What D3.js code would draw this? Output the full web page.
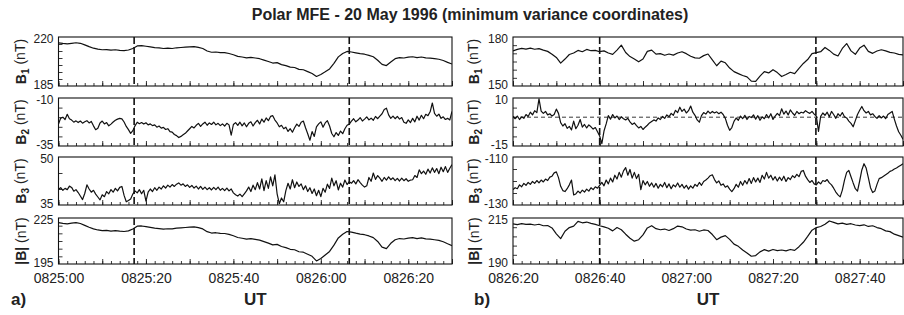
<!DOCTYPE html>
<html>
<head>
<meta charset="utf-8">
<script src="https://cdn.jsdelivr.net/npm/d3@7"></script>
<style>
body { margin: 0; background: #fff; }
svg { font-family: "Liberation Sans", Arial, sans-serif; }
</style>
</head>
<body>
<div id="chart"></div>
<script>
// Data
//-------------------------------------------------------
// time ranges and labelled ticks (UT, HHMM:SS)
var leftRange = ["0825:00", "0826:30"];
var rightRange = ["0826:20", "0827:50"];
var leftTickLabels = ["0825:00", "0825:20", "0825:40", "0826:00", "0826:20"];
var rightTickLabels = ["0826:20", "0826:40", "0827:00", "0827:20", "0827:40"];

// dashed markers, seconds after start of each range
var leftDashSec = [17.3, 66.5];
var rightDashSec = [20.0, 69.9];

// y ranges (also the tick labels) for B1, B2, B3, |B|
var leftYDomains = [[185, 220], [-35, -10], [35, 50], [195, 225]];
var rightYDomains = [[150, 180], [-15, 10], [-130, -110], [190, 215]];
var yLabels = ["B1", "B2", "B3", "|B|"];

// left interval, B1 and |B| every 1 s, B2 and B3 every 0.5 s
var leftB1 = [
    215.8, 215.4, 215.1, 215.5, 215.9, 215.5, 214.4, 213.1, 212.0, 211.3,
    210.9, 211.0, 210.6, 210.9, 210.5, 210.3, 210.7, 211.8, 213.6, 213.9,
    213.4, 212.9, 212.4, 212.2, 211.8, 212.0, 211.8, 212.3, 212.5, 212.7,
    212.9, 213.1, 212.6, 211.8, 210.0, 209.1, 209.3, 208.9, 208.8, 208.2,
    207.3, 206.2, 205.7, 205.1, 205.5, 205.0, 204.5, 203.5, 202.5, 201.4,
    201.7, 200.3, 199.6, 198.5, 198.2, 196.9, 196.6, 195.3, 193.9, 191.8,
    193.2, 195.1, 197.2, 201.2, 205.8, 208.2, 209.7, 209.3, 208.7, 208.1,
    207.7, 206.9, 205.9, 203.4, 200.4, 199.6, 202.2, 204.5, 205.3, 205.0,
    205.6, 205.9, 205.3, 205.7, 205.1, 204.9, 204.5, 204.1, 203.2, 201.9,
    200.7
];
var leftB2 = [
    -23.5, -20.5, -20.0, -21.2, -18.5, -20.8, -21.5, -22.6, -21.9, -22.8,
    -22.0, -23.1, -22.4, -21.8, -23.0, -22.2, -24.5, -26.5, -25.8, -23.0,
    -22.0, -23.5, -22.8, -24.5, -23.6, -22.5, -21.6, -21.0, -20.6, -20.9,
    -22.5, -24.8, -26.5, -28.4, -27.0, -24.5, -22.6, -23.4, -22.8, -23.6,
    -22.9, -24.0, -23.5, -24.4, -24.0, -25.2, -24.6, -25.7, -25.3, -26.4,
    -26.0, -27.5, -27.8, -29.0, -29.6, -30.6, -30.0, -29.2, -28.4, -27.2,
    -26.0, -24.8, -25.6, -24.2, -23.2, -24.8, -23.5, -22.6, -24.2, -23.0,
    -23.8, -22.6, -24.0, -23.2, -24.4, -23.5, -24.6, -23.2, -24.0, -29.4,
    -23.8, -22.8, -24.3, -22.6, -24.5, -23.0, -25.0, -23.2, -22.4, -24.6,
    -22.8, -21.6, -23.5, -21.0, -22.6, -20.4, -21.8, -19.6, -19.2, -21.5,
    -23.0, -25.0, -24.2, -26.0, -25.2, -27.4, -26.0, -27.8, -25.5, -23.6,
    -24.8, -22.6, -22.0, -25.5, -28.6, -32.0, -27.5, -30.0, -25.0, -23.5,
    -22.4, -25.2, -23.0, -21.8, -24.6, -28.5, -30.2, -28.0, -29.5, -27.2,
    -28.6, -26.0, -24.2, -23.6, -22.0, -20.8, -22.4, -21.5, -20.2, -22.0,
    -21.0, -19.8, -21.4, -20.5, -21.6, -19.6, -20.8, -19.4, -18.2, -16.0,
    -15.3, -18.8, -20.6, -19.4, -20.8, -19.6, -21.0, -20.2, -22.6, -23.2,
    -21.4, -22.8, -20.6, -22.4, -19.5, -21.5, -19.0, -20.8, -18.5, -19.2,
    -17.2, -12.6, -18.0, -19.5, -18.4, -20.6, -19.8, -21.2, -20.6, -21.4,
    -17.0
];
var leftB3 = [
    39.9, 40.4, 39.6, 40.2, 39.8, 40.9, 40.5, 39.3, 39.8, 38.9,
    37.8, 36.7, 38.6, 41.3, 40.0, 39.0, 39.6, 38.4, 37.5, 36.6,
    38.2, 37.6, 39.2, 38.5, 39.8, 39.0, 40.2, 39.4, 40.5, 40.8,
    38.0, 36.0, 36.4, 36.9, 38.4, 39.4, 38.8, 39.8, 38.5, 39.6,
    36.2, 39.0, 40.0, 39.2, 40.4, 39.6, 40.6, 40.0, 41.0, 40.3,
    41.2, 40.6, 41.4, 40.8, 41.5, 41.9, 41.2, 41.6, 40.8, 41.3,
    40.5, 41.1, 40.3, 40.9, 40.0, 40.8, 39.9, 40.6, 39.8, 40.4,
    39.7, 40.5, 39.8, 40.6, 39.6, 40.2, 39.5, 40.3, 39.4, 40.0,
    38.8, 38.2, 37.8, 38.4, 37.6, 38.5, 39.4, 40.6, 39.2, 41.2,
    39.8, 42.0, 40.0, 43.2, 39.5, 42.6, 40.2, 43.8, 41.0, 44.4,
    38.5, 35.4, 37.2, 36.0, 39.5, 41.8, 40.0, 42.9, 40.4, 42.2,
    40.8, 41.6, 39.8, 41.0, 39.2, 40.4, 38.6, 40.0, 37.9, 39.6,
    37.6, 40.2, 39.0, 41.5, 40.2, 43.4, 41.0, 42.6, 39.7, 41.8,
    40.6, 42.8, 41.4, 42.3, 41.8, 42.6, 41.6, 42.9, 42.0, 41.2,
    40.6, 41.0, 43.6, 42.4, 45.0, 43.0, 44.2, 43.4, 42.4, 43.6,
    42.8, 43.8, 42.9, 43.5, 42.6, 43.3, 42.5, 43.4, 42.6, 43.2,
    42.4, 42.8, 42.9, 44.2, 43.6, 46.0, 44.8, 45.6, 44.6, 46.2,
    45.0, 46.6, 45.2, 46.4, 44.8, 46.8, 45.4, 47.0, 45.2, 46.5,
    47.6
];
var leftBmag = [
    222.0, 221.5, 221.2, 221.6, 222.0, 221.4, 220.2, 219.0, 217.9, 217.2,
    216.8, 216.9, 216.5, 216.8, 216.4, 216.2, 216.6, 217.8, 219.7, 219.8,
    219.4, 218.9, 218.4, 218.1, 217.8, 218.0, 217.9, 218.4, 218.6, 218.8,
    219.0, 219.2, 218.7, 217.9, 216.1, 215.2, 215.4, 215.0, 214.9, 214.3,
    213.4, 212.3, 211.8, 211.2, 211.6, 211.1, 210.6, 209.6, 208.6, 207.5,
    207.8, 206.4, 205.7, 204.6, 204.3, 203.0, 202.7, 201.4, 200.0, 197.0,
    198.6, 200.9, 203.2, 207.3, 212.0, 214.4, 216.2, 215.8, 215.1, 214.5,
    214.1, 213.3, 212.2, 209.7, 206.0, 205.0, 208.5, 210.8, 211.6, 211.3,
    211.9, 212.2, 211.6, 212.0, 211.4, 211.2, 210.8, 210.4, 209.5, 208.2,
    207.0
];

// right interval
var rightB1 = [
    171.5, 172.4, 173.0, 172.6, 173.2, 172.5, 172.9, 172.0, 171.2, 169.5,
    167.5, 164.0, 166.5, 169.3, 170.2, 171.8, 171.0, 172.4, 171.6, 171.8,
    171.0, 171.5, 170.2, 169.4, 172.0, 175.0, 170.5, 168.0, 166.5, 164.8,
    166.5, 171.2, 172.0, 169.5, 169.8, 168.8, 169.6, 168.9, 170.2, 171.0,
    169.8, 168.2, 167.2, 167.0, 168.6, 169.6, 166.0, 162.4, 165.2, 164.2,
    161.0, 158.8, 157.6, 156.4, 155.6, 153.0, 152.8, 156.0, 158.8, 158.0,
    160.0, 158.2, 155.8, 157.0, 158.4, 157.6, 160.8, 163.8, 166.2, 169.8,
    170.4, 171.0, 173.6, 171.8, 169.5, 168.4, 173.0, 176.0, 171.5, 169.4,
    173.2, 175.0, 171.2, 170.0, 171.4, 172.2, 171.5, 170.6, 170.2, 169.4,
    169.0
];
var rightB2 = [
    0.5, -0.8, 0.6, -1.2, 0.2, -0.6, 1.4, 0.4, 2.6, 1.2,
    3.4, 2.4, 9.5, 3.2, 2.0, 3.0, 1.2, 1.8, 0.6, 1.4,
    4.2, 2.0, -2.8, -4.6, -3.4, -5.8, -4.8, -6.6, -2.0, -6.0,
    -4.2, -1.2, -5.2, -3.8, -5.6, -4.0, -5.0, -6.2, -5.4, -7.6,
    -9.8, -13.8, -7.2, -3.5, 0.8, -1.0, 1.4, -0.4, 0.6, -1.2,
    0.2, -0.8, -1.4, -0.6, -2.4, -3.8, -3.0, -4.4, -5.6, -4.8,
    -6.4, -5.2, -4.2, -3.0, -2.2, -1.4, -2.0, -0.4, -1.2, 0.4,
    -0.6, 1.2, 0.2, 2.0, 1.0, 3.6, 2.4, 5.2, 3.0, 4.2,
    2.2, 3.4, 5.8, 2.6, 1.0, -1.4, -2.6, 0.8, 2.4, 1.6,
    3.2, 2.0, 3.0, 2.2, 2.8, 1.8, 2.6, 1.4, -0.6, -4.2,
    -6.8, -5.4, -2.2, -0.4, -1.6, 0.6, -0.8, 1.0, -1.2, 0.4,
    -0.2, 1.2, -1.0, 0.8, -1.6, 0.2, -0.8, 1.4, -0.4, 1.8,
    -1.2, 0.6, 2.0, 0.8, 4.4, 1.6, 3.2, 1.2, 3.8, 2.2,
    1.0, 3.0, 1.8, 2.6, 2.2, 3.4, 2.6, 2.0, 3.0, 1.6,
    0.6, -7.4, 0.4, 2.2, 1.0, 2.6, 0.2, 3.0, 1.4, -0.6,
    1.8, 0.6, 2.4, 0.2, -0.4, -2.0, -3.2, -5.0, -1.8, 1.4,
    3.6, 5.6, 3.4, 2.2, 3.0, 1.2, 1.8, 0.4, -0.6, 0.8,
    -0.4, 0.6, -0.8, 1.4, 2.2, 3.0, -1.0, -4.6, -7.6, -9.4,
    -11.5
];
var rightB3 = [
    -123.6, -122.8, -123.2, -121.6, -122.4, -121.0, -121.8, -120.6, -121.4, -120.2,
    -121.0, -119.8, -120.8, -119.6, -120.4, -119.2, -119.8, -118.4, -118.0, -116.6,
    -116.2, -118.6, -122.2, -124.0, -124.4, -123.2, -121.6, -119.6, -125.8, -125.4,
    -124.2, -125.0, -123.8, -124.6, -123.4, -124.2, -122.8, -123.6, -122.4, -123.0,
    -121.8, -120.6, -122.0, -119.6, -121.2, -118.8, -120.4, -117.6, -119.2, -116.4,
    -118.4, -115.8, -114.4, -117.6, -115.2, -118.8, -116.4, -119.0, -117.2, -123.6,
    -119.8, -121.6, -120.2, -122.2, -120.8, -122.6, -121.0, -123.0, -121.4, -122.4,
    -120.6, -122.8, -121.2, -123.2, -121.6, -122.4, -120.8, -122.6, -121.4, -123.0,
    -121.8, -123.4, -122.0, -123.0, -121.4, -122.2, -120.6, -121.8, -120.2, -119.6,
    -118.8, -117.8, -117.4, -119.4, -120.8, -120.0, -121.8, -121.2, -122.6, -122.0,
    -123.4, -124.4, -123.2, -121.4, -122.6, -120.2, -121.8, -119.8, -121.2, -119.0,
    -121.0, -118.6, -120.4, -118.8, -120.6, -117.6, -119.2, -116.4, -118.8, -117.6,
    -119.6, -118.2, -120.0, -118.4, -119.8, -118.0, -120.2, -118.6, -119.4, -117.8,
    -118.6, -117.2, -118.2, -116.0, -115.6, -118.0, -119.4, -120.6, -119.8, -121.2,
    -121.6, -120.4, -121.2, -119.8, -120.2, -119.4, -120.8, -121.6, -123.0, -124.6,
    -125.8, -126.6, -123.8, -119.6, -116.4, -115.6, -118.2, -120.8, -123.2, -124.2,
    -120.0, -115.4, -112.8, -114.6, -118.6, -122.8, -124.8, -124.2, -121.4, -119.0,
    -118.6, -118.0, -117.4, -116.8, -116.0, -115.6, -115.0, -114.6, -114.0, -113.4,
    -112.8
];
var rightBmag = [
    211.8, 211.4, 211.9, 211.5, 211.7, 211.2, 211.6, 210.8, 210.9, 209.6,
    206.4, 203.8, 207.8, 209.8, 210.6, 213.2, 212.4, 212.8, 212.1, 211.5,
    210.8, 210.2, 209.4, 208.0, 209.8, 208.6, 206.2, 204.0, 202.4, 203.2,
    205.8, 209.6, 210.8, 209.2, 208.6, 209.0, 208.2, 209.2, 210.6, 210.2,
    209.0, 208.4, 208.6, 207.8, 208.5, 208.2, 206.0, 203.2, 204.6, 205.4,
    203.4, 200.8, 199.6, 197.6, 196.0, 194.2, 194.6, 196.6, 197.8, 197.0,
    197.9, 197.3, 197.6, 197.1, 197.9, 197.4, 199.4, 201.8, 205.0, 208.4,
    209.8, 210.4, 211.6, 213.4, 212.6, 211.8, 212.2, 211.5, 211.9, 211.2,
    210.9, 211.3, 210.4, 210.8, 209.8, 209.2, 208.0, 207.6, 206.2, 205.4,
    204.6
];

// Layout
//-------------------------------------------------------
var svgWidth = 904;
var svgHeight = 315;

var panelTops = [37, 98, 157, 218];
var panelBottoms = [86, 146, 205, 264];

var sides = [
    { x0: 58.5, x1: 452, range: leftRange, ticks: leftTickLabels, dash: leftDashSec,
      domains: leftYDomains, series: [leftB1, leftB2, leftB3, leftBmag], labelX: 21, tag: "a)", tagX: 11 },
    { x0: 513, x1: 903, range: rightRange, ticks: rightTickLabels, dash: rightDashSec,
      domains: rightYDomains, series: [rightB1, rightB2, rightB3, rightBmag], labelX: 474, tag: "b)", tagX: 474 }
];

var parseUT = d3.utcParse("%H%M:%S");
var formatUT = d3.utcFormat("%H%M:%S");

var svg = d3.select("#chart")
    .append("svg")
    .attr("width", svgWidth)
    .attr("height", svgHeight);

svg.append("text")
    .attr("x", 470)
    .attr("y", 20)
    .attr("text-anchor", "middle")
    .style("font-size", "16px")
    .style("font-weight", "bold")
    .attr("fill", "#222")
    .text("Polar MFE - 20 May 1996 (minimum variance coordinates)");

var defs = svg.append("defs");

// Draw both sides
//-------------------------------------------------------
sides.forEach(function(side, s) {

    var t0 = parseUT(side.range[0]);
    var t1 = parseUT(side.range[1]);
    var span = (t1 - t0) / 1000;

    var x = d3.scaleUtc()
        .domain([t0, t1])
        .range([side.x0, side.x1]);

    side.series.forEach(function(values, p) {
        var top = panelTops[p];
        var bottom = panelBottoms[p];
        var dom = side.domains[p];

        var y = d3.scaleLinear()
            .domain(dom)
            .range([bottom, top]);

        var g = svg.append("g");

        // clip for the trace
        var clipId = "clip-" + s + "-" + p;
        defs.append("clipPath").attr("id", clipId)
            .append("rect")
            .attr("x", side.x0).attr("y", top)
            .attr("width", side.x1 - side.x0).attr("height", bottom - top);

        // minor and major time ticks (inside)
        g.append("g")
            .attr("transform", `translate(0, ${bottom})`)
            .call(d3.axisBottom(x).ticks(d3.utcSecond.every(2)).tickSize(-3).tickFormat(""));
        g.append("g")
            .attr("transform", `translate(0, ${bottom})`)
            .call(d3.axisBottom(x).ticks(d3.utcSecond.every(10)).tickSize(-5).tickFormat(""));

        // y ticks every 5 nT (inside) and end labels
        var yTicks = d3.range(dom[0] + 5, dom[1], 5);
        g.append("g")
            .attr("transform", `translate(${side.x0}, 0)`)
            .call(d3.axisLeft(y).tickValues(yTicks).tickSize(-4).tickFormat(""));
        var yLabelAxis = g.append("g")
            .attr("transform", `translate(${side.x0}, 0)`)
            .call(d3.axisLeft(y).tickValues(dom).tickSize(0).tickPadding(5).tickFormat(d => String(d)));
        yLabelAxis.selectAll("text")
            .style("font-size", "12px")
            .attr("fill", "#222")
            .attr("dy", (d, i) => i === 0 ? "0.2em" : "0.42em");

        g.selectAll(".domain").remove();
        g.selectAll(".tick line").attr("stroke", "#222").attr("stroke-width", 0.9);

        // zero reference line
        if (dom[0] < 0 && dom[1] > 0) {
            g.append("line")
                .attr("x1", side.x0).attr("x2", side.x1)
                .attr("y1", y(0)).attr("y2", y(0))
                .attr("stroke", "#222")
                .attr("stroke-width", 0.9)
                .attr("stroke-dasharray", "4,3");
        }

        // trace
        var step = span / (values.length - 1);
        var line = d3.line()
            .x((d, i) => x(new Date(t0.getTime() + i * step * 1000)))
            .y(d => y(d));

        g.append("path")
            .datum(values)
            .attr("clip-path", `url(#${clipId})`)
            .attr("fill", "none")
            .attr("stroke", "#111")
            .attr("stroke-width", 1.2)
            .attr("stroke-linejoin", "round")
            .attr("d", line);

        // dashed event markers
        side.dash.forEach(function(sec) {
            var xd = x(new Date(t0.getTime() + sec * 1000));
            g.append("line")
                .attr("x1", xd).attr("x2", xd)
                .attr("y1", top).attr("y2", bottom)
                .attr("stroke", "#111")
                .attr("stroke-width", 1.6)
                .attr("stroke-dasharray", "7,3");
        });

        // frame
        g.append("rect")
            .attr("x", side.x0).attr("y", top)
            .attr("width", side.x1 - side.x0).attr("height", bottom - top)
            .attr("fill", "none")
            .attr("stroke", "#111")
            .attr("stroke-width", 1.1);

        // y axis title
        var label = g.append("text")
            .attr("transform", `translate(${side.labelX}, ${(top + bottom) / 2}) rotate(-90)`)
            .attr("text-anchor", "middle")
            .attr("dy", "0.35em")
            .style("font-size", "14px")
            .attr("fill", "#222");
        var name = yLabels[p];
        if (name.length === 2) {
            label.append("tspan").style("font-weight", "bold").text(name[0]);
            label.append("tspan").style("font-weight", "bold").style("font-size", "10px")
                .attr("dy", "0.3em").text(name[1]);
            label.append("tspan").attr("dy", "-0.3em").text(" (nT)");
        } else {
            label.append("tspan").style("font-weight", "bold").text(name);
            label.append("tspan").text(" (nT)");
        }

        // time labels on the bottom panel
        if (p === side.series.length - 1) {
            var xLabelAxis = g.append("g")
                .attr("transform", `translate(0, ${bottom})`)
                .call(d3.axisBottom(x)
                    .tickValues(side.ticks.map(parseUT))
                    .tickFormat(formatUT)
                    .tickSize(0)
                    .tickPadding(9));
            xLabelAxis.select(".domain").remove();
            xLabelAxis.selectAll("text").style("font-size", "14px").attr("fill", "#222");
        }
    });

    // UT title and panel tag
    svg.append("text")
        .attr("x", (side.x0 + side.x1) / 2)
        .attr("y", 305)
        .attr("text-anchor", "middle")
        .style("font-size", "17px")
        .style("font-weight", "bold")
        .attr("fill", "#222")
        .text("UT");

    svg.append("text")
        .attr("x", side.tagX)
        .attr("y", 305)
        .style("font-size", "17px")
        .style("font-weight", "bold")
        .attr("fill", "#222")
        .text(side.tag);
});
</script>
</body>
</html>
